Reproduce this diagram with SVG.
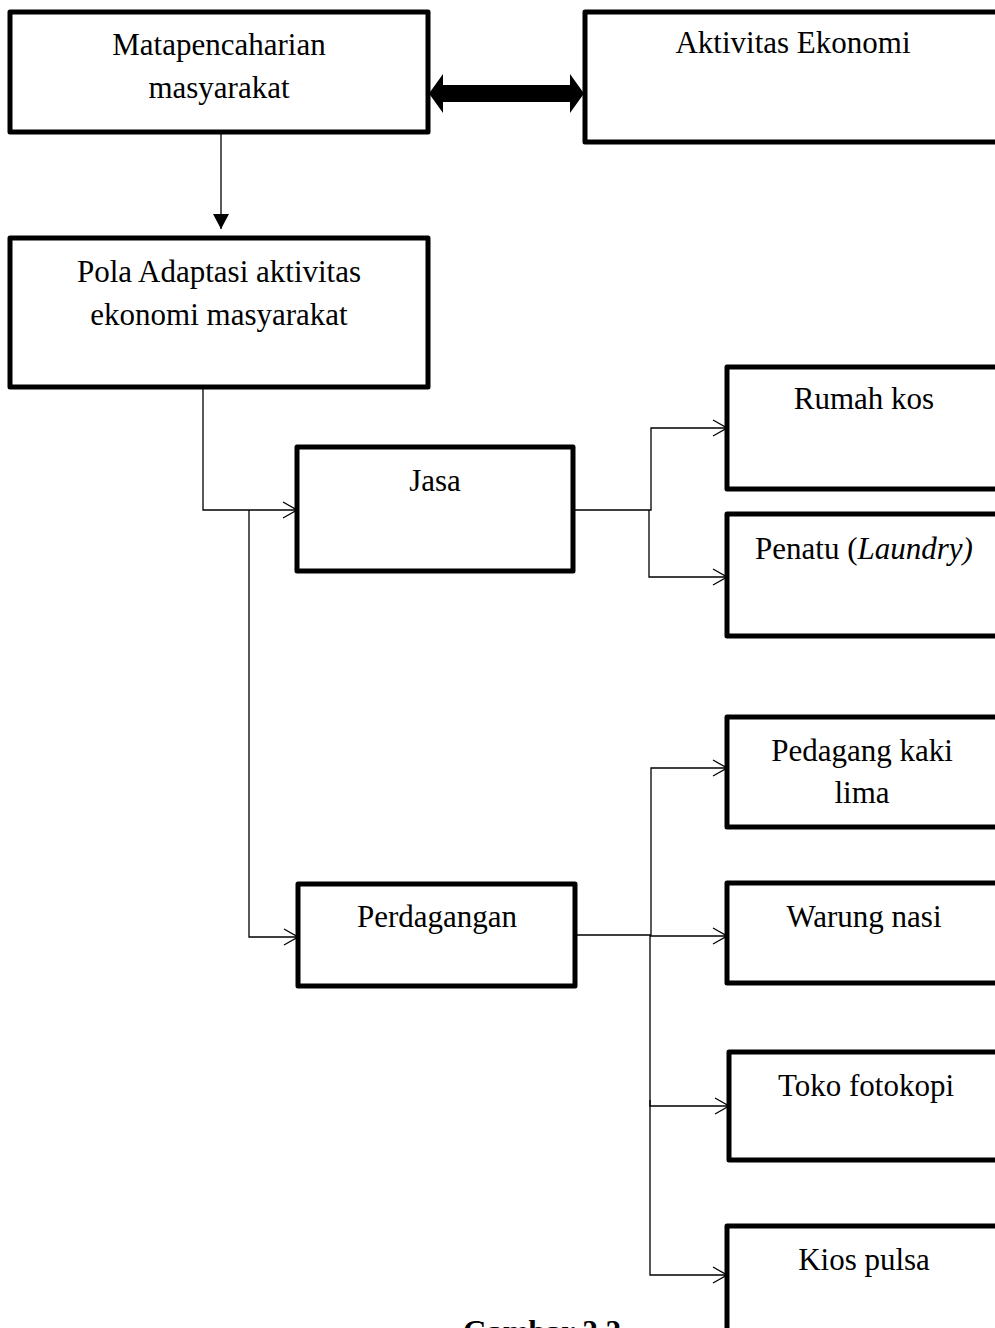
<svg xmlns="http://www.w3.org/2000/svg" width="995" height="1328" viewBox="0 0 995 1328">
<style>
.box{fill:#fff;stroke:#000;stroke-width:5;stroke-linejoin:round}
.t{font-family:"Liberation Serif","Times New Roman",serif;font-size:31px;fill:#000;text-anchor:middle}
.c{fill:none;stroke:#000;stroke-width:1.3}
</style>
<defs>
<marker id="open" viewBox="0 0 16 18" refX="15" refY="9" markerWidth="16" markerHeight="18" markerUnits="userSpaceOnUse" orient="auto">
<path d="M1,1 L15,9 L1,17" fill="none" stroke="#000" stroke-width="1.3"/>
</marker>
<marker id="solid" viewBox="0 0 15 16" refX="15" refY="8" markerWidth="15" markerHeight="16" markerUnits="userSpaceOnUse" orient="auto">
<path d="M0,0 L15,8 L0,16 Z" fill="#000"/>
</marker>
</defs>
<rect width="995" height="1328" fill="#fff"/>
<g id="connectors">
<polygon points="429,93.5 443,74 443,85 570,85 570,74 584,93.5 570,113 570,102 443,102 443,113" fill="#000"/>
<line class="c" x1="221" y1="132" x2="221" y2="229" marker-end="url(#solid)"/>
<polyline class="c" points="203,387 203,510 297,510" marker-end="url(#open)"/>
<polyline class="c" points="249,510 249,937 298,937" marker-end="url(#open)"/>
<polyline class="c" points="573,510 651,510 651,428 727,428" marker-end="url(#open)"/>
<polyline class="c" points="649,510 649,577 727,577" marker-end="url(#open)"/>
<polyline class="c" points="575,935 651,935 651,768 727,768" marker-end="url(#open)"/>
<line class="c" x1="650" y1="936" x2="727" y2="936" marker-end="url(#open)"/>
<polyline class="c" points="650,935 650,1106 729,1106" marker-end="url(#open)"/>
<polyline class="c" points="650,1100 650,1275 727,1275" marker-end="url(#open)"/>
</g>
<g id="matapencaharian">
<rect class="box" x="10" y="12" width="418" height="120"/>
<text class="t" x="219" y="55">Matapencaharian</text>
<text class="t" x="219" y="98">masyarakat</text>
</g>
<g id="aktivitas-ekonomi">
<rect class="box" x="585" y="12" width="430" height="130"/>
<text class="t" x="793" y="53">Aktivitas Ekonomi</text>
</g>
<g id="pola-adaptasi">
<rect class="box" x="10" y="238" width="418" height="149"/>
<text class="t" x="219" y="282">Pola Adaptasi aktivitas</text>
<text class="t" x="219" y="325">ekonomi masyarakat</text>
</g>
<g id="jasa">
<rect class="box" x="297" y="447" width="276" height="124"/>
<text class="t" x="435" y="491">Jasa</text>
</g>
<g id="perdagangan">
<rect class="box" x="298" y="884" width="277" height="102"/>
<text class="t" x="437" y="927">Perdagangan</text>
</g>
<g id="rumah-kos">
<rect class="box" x="727" y="367" width="290" height="122"/>
<text class="t" x="864" y="409">Rumah kos</text>
</g>
<g id="penatu">
<rect class="box" x="727" y="514" width="290" height="122"/>
<text class="t" x="864" y="559">Penatu (<tspan font-style="italic">Laundry)</tspan></text>
</g>
<g id="pedagang-kaki-lima">
<rect class="box" x="727" y="717" width="290" height="110"/>
<text class="t" x="862" y="761">Pedagang kaki</text>
<text class="t" x="862" y="803">lima</text>
</g>
<g id="warung-nasi">
<rect class="box" x="727" y="883" width="290" height="100"/>
<text class="t" x="864" y="927">Warung nasi</text>
</g>
<g id="toko-fotokopi">
<rect class="box" x="729" y="1052" width="290" height="108"/>
<text class="t" x="866" y="1096">Toko fotokopi</text>
</g>
<g id="kios-pulsa">
<rect class="box" x="727" y="1226" width="290" height="120"/>
<text class="t" x="864" y="1270">Kios pulsa</text>
</g>
<g id="caption">
<text class="t" x="542" y="1342" font-weight="bold">Gambar 2.2</text>
</g>
</svg>
